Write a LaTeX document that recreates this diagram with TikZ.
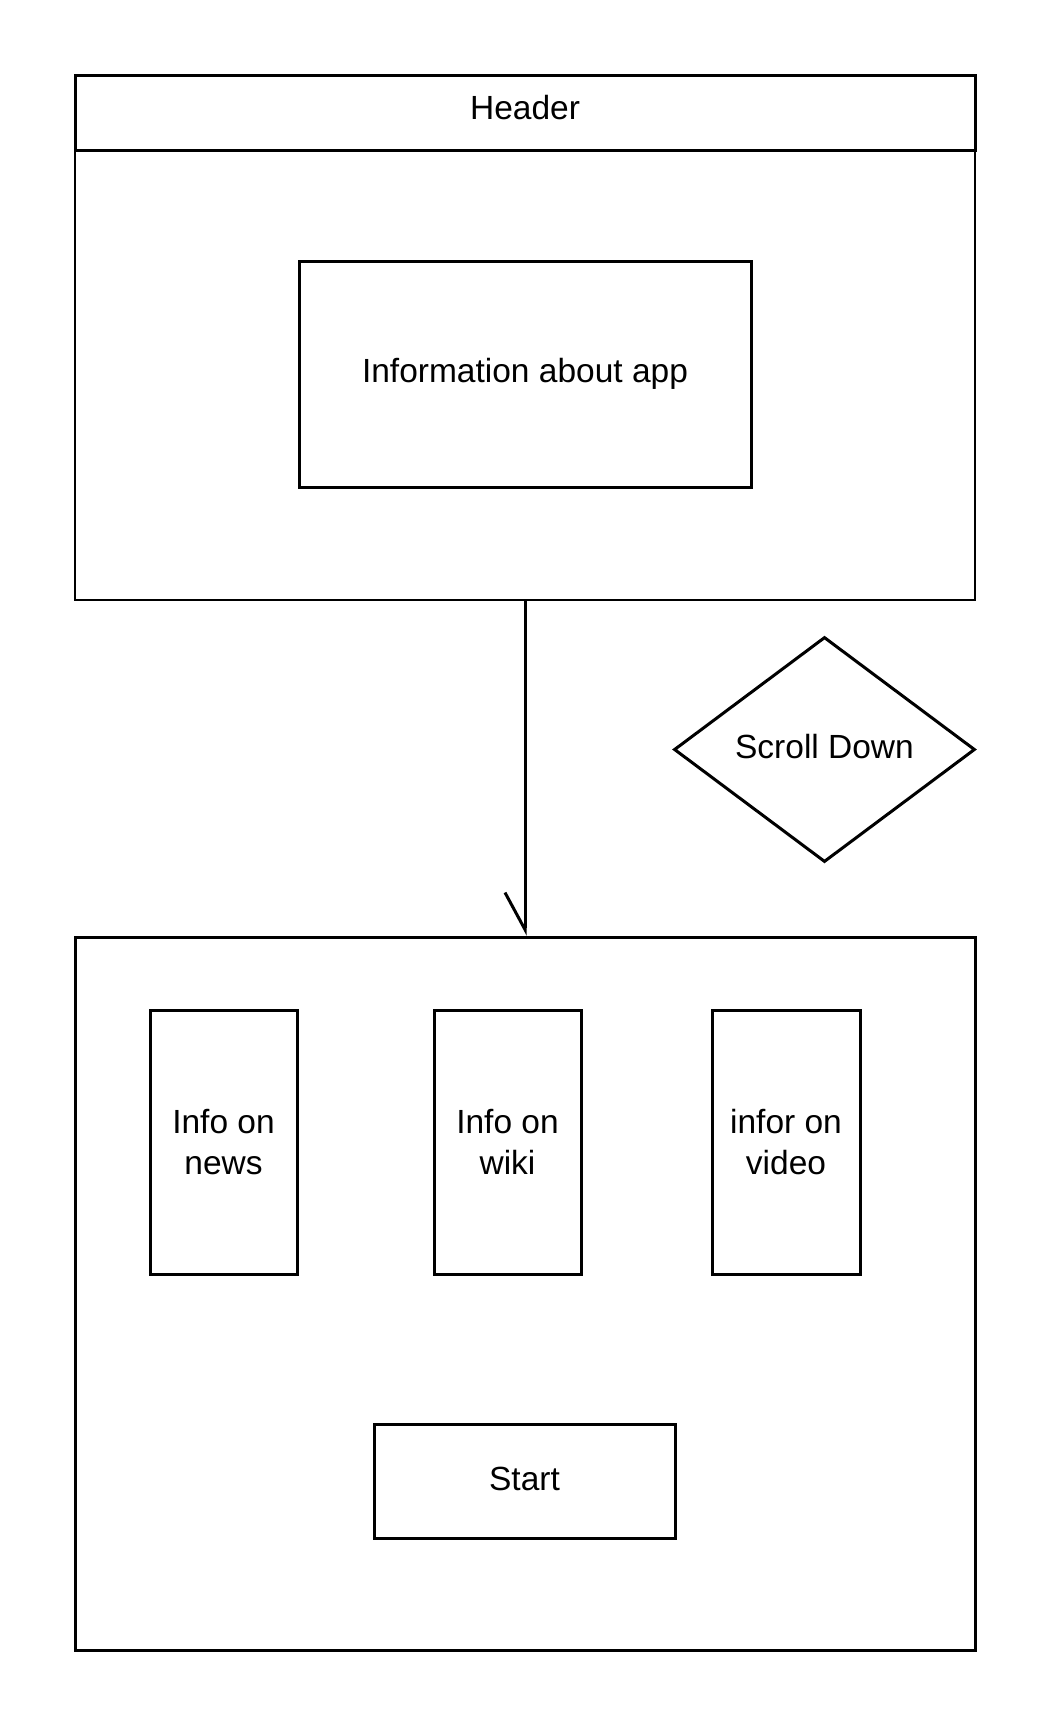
\documentclass[tikz,border=0pt]{standalone}
\usepackage{fontspec}
\setmainfont{Liberation Sans}
\usetikzlibrary{shapes.geometric,arrows.meta}
\begin{document}
\begin{tikzpicture}[x=1pt,y=-1pt,
  box/.style={draw,line width=3pt,inner sep=0pt,align=center,font=\fontsize{33.5}{41}\selectfont},
  thinbox/.style={draw,line width=1.3pt,inner sep=0pt},
  conn/.style={line width=3pt,-{Straight Barb[right,length=37pt,width=40pt]}}]
\useasboundingbox[fill=white] (0,0) rectangle (1050,1725);
\node[thinbox,minimum width=900pt,minimum height=525pt] (screen1) at (525,337.5) {};
\node[box,minimum width=900pt,minimum height=75pt,text depth=11pt] (header) at (525,112.5) {Header};
\node[box,minimum width=452pt,minimum height=226pt] (info) at (525,374) {Information about app};
\node[box,diamond,aspect=1.338,minimum width=301pt,minimum height=225pt,text depth=6.6pt] (scroll) at (824.5,749.5) {Scroll Down};
\node[box,minimum width=900pt,minimum height=713pt] (screen2) at (525,1293.5) {};
\node[box,minimum width=147pt,minimum height=264pt] (news) at (223.5,1142) {Info on\\news};
\node[box,minimum width=147pt,minimum height=264pt] (wiki) at (507.5,1142) {Info on\\wiki};
\node[box,minimum width=148pt,minimum height=264pt] (video) at (786,1142) {infor on\\video};
\node[box,minimum width=301pt,minimum height=114pt,text depth=4.4pt] (start) at (524.5,1481) {Start};
\draw[conn] (screen1.south) -- (screen2.north);
\end{tikzpicture}
\end{document}
